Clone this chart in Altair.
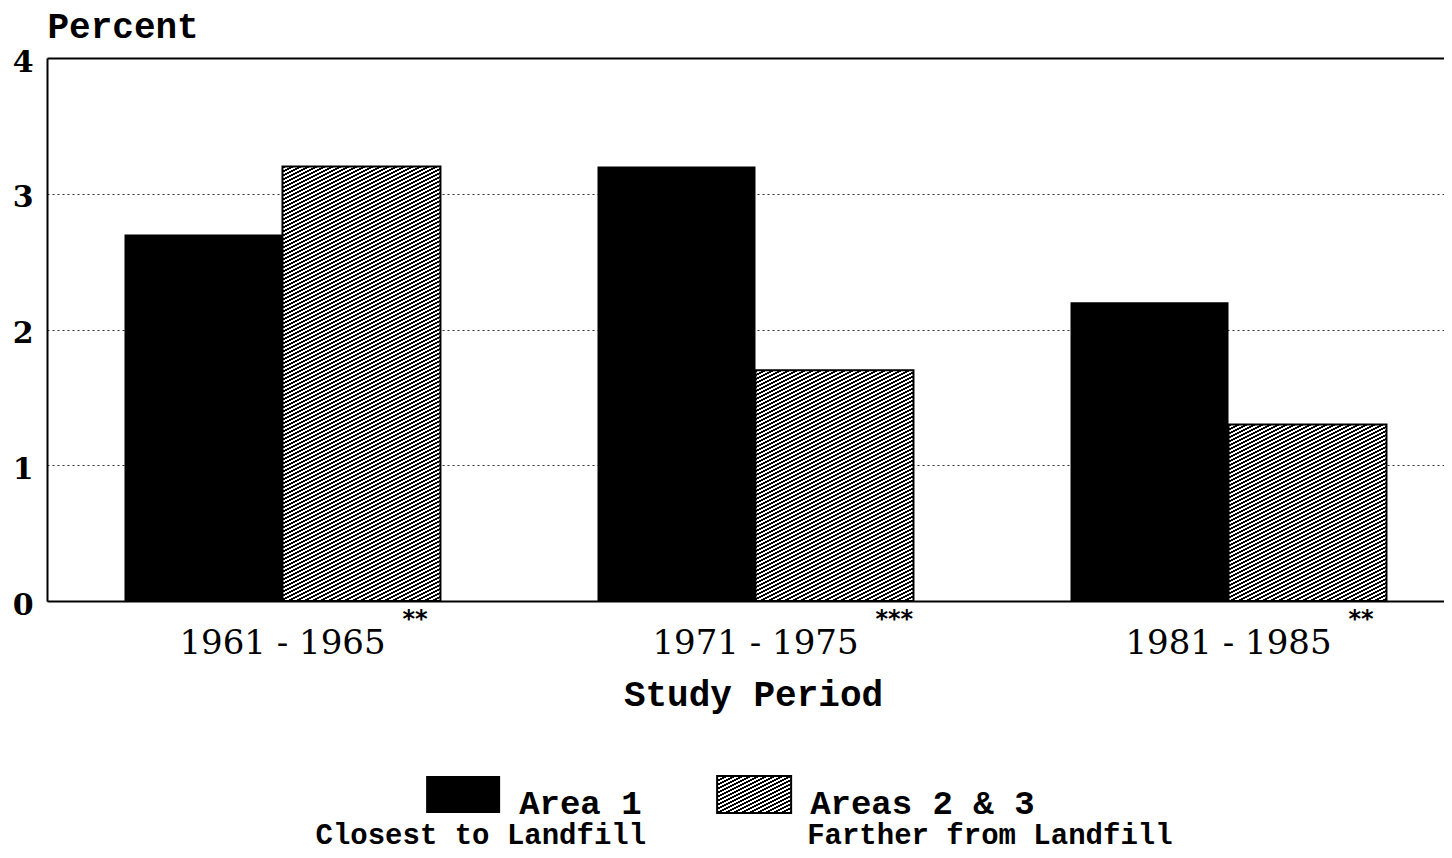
import altair as alt
import pandas as pd

# ---- data ----
periods = ["1961 - 1965", "1971 - 1975", "1981 - 1985"]
area1 = [2.7, 3.2, 2.2]
areas23 = [3.2, 1.7, 1.3]
significance = ["**", "***", "**"]
series = ["Area 1", "Areas 2 & 3"]
series_notes = ["Closest to Landfill", "Farther from Landfill"]

# ---- layout constants (styling only) ----
PLOT_W, PLOT_H = 1397, 543
Y_MAX = 4
PAD_IN, PAD_OUT, ALIGN = 0.332, 0.1427, 0.574
STEP = PLOT_W / (len(periods) - PAD_IN + 2 * PAD_OUT)
BAR_W = STEP * (1 - PAD_IN) / 2
PX_PER_UNIT = PLOT_H / Y_MAX
WORD_FONT = "Liberation Mono"
NUM_FONT = "DejaVu Serif"


def hatch(w, h, period=4.0, slope=0.5):
    """Diagonal black/white hatch as a bounding-box linear gradient."""
    a, b = slope * w, h
    s = (a + b) / (a * a + b * b)
    x2, y2 = s * a, s * b
    p = period / (a + b)
    stops = []
    t = 0.0
    while t < 1.0:
        t1 = min(t + p / 2, 1.0)
        t2 = min(t + p, 1.0)
        stops += [
            alt.GradientStop(offset=round(t, 5), color="black"),
            alt.GradientStop(offset=round(t1, 5), color="black"),
            alt.GradientStop(offset=round(t1, 5), color="white"),
            alt.GradientStop(offset=round(t2, 5), color="white"),
        ]
        t += p
    return alt.LinearGradient(gradient="linear", x1=0, y1=0, x2=round(x2, 5),
                              y2=round(y2, 5), stops=stops)


rows = []
for p, v1, v2 in zip(periods, area1, areas23):
    rows.append({"period": p, "series": series[0], "value": v1})
    rows.append({"period": p, "series": series[1], "value": v2})
df = pd.DataFrame(rows)
sig_df = pd.DataFrame({"period": periods, "sig": significance})

x_enc = alt.X(
    "period:N",
    sort=periods,
    scale=alt.Scale(domain=periods, paddingInner=PAD_IN, paddingOuter=PAD_OUT, align=ALIGN),
    axis=alt.Axis(
        title="Study Period",
        titleFont=WORD_FONT, titleFontSize=36, titleFontWeight="bold", titleColor="black",
        titleBaseline="alphabetic", titleX=706, titleY=104, titleAnchor="start", titleAlign="center",
        labelFont=NUM_FONT, labelFontSize=34, labelColor="black", labelPadding=25,
        labelLimit=0, labelAngle=0, ticks=False, domainColor="black", domainWidth=2, grid=False,
    ),
)
xoff_enc = alt.XOffset("series:N", scale=alt.Scale(domain=series, paddingInner=0, paddingOuter=0))
y_enc = alt.Y(
    "value:Q",
    scale=alt.Scale(domain=[0, Y_MAX], nice=False, zero=True),
    axis=alt.Axis(
        values=[0, 1, 2, 3, 4], format="d",
        title="Percent", titleAngle=0, titleAlign="left", titleBaseline="alphabetic",
        titleX=0, titleY=-21, titleFont=WORD_FONT, titleFontSize=36, titleFontWeight="bold",
        titleColor="black",
        labelFont=NUM_FONT, labelFontSize=30, labelFontWeight="bold", labelColor="black",
        labelPadding=14, labelOffset=4, labelBaseline="middle",
        ticks=False, domainColor="black", domainWidth=2,
        grid=True, gridColor="black",
        gridDash={"condition": {"test": "datum.value === 4", "value": []}, "value": [2, 3]},
        gridWidth={"condition": {"test": "datum.value === 4", "value": 2}, "value": 1},
        gridOpacity={"condition": {"test": "datum.value === 4", "value": 1}, "value": 0.8},
    ),
)

base = alt.Chart(df).encode(x=x_enc, xOffset=xoff_enc, y=y_enc)

layers = [
    base.mark_bar(fill="black").transform_filter(alt.datum.series == series[0])
]
for p, v in zip(periods, areas23):
    layers.append(
        base.mark_bar(fill=hatch(BAR_W, v * PX_PER_UNIT), stroke="black", strokeWidth=2)
        .transform_filter((alt.datum.series == series[1]) & (alt.datum.period == p))
    )

stars = alt.Chart(sig_df).mark_text(
    font="DejaVu Sans", fontSize=24, fontWeight="bold", color="black",
    align="left", baseline="top", dx=120, dy=7,
).encode(x=alt.X("period:N", sort=periods), y=alt.datum(0), text="sig:N")

main = alt.layer(*layers, stars).properties(width=PLOT_W, height=PLOT_H)

# ---- legend (two rows: swatch row and note row) ----
SW_W, SW_H = 74, 37
leg_df = pd.DataFrame({"series": series, "note": series_notes})
lx = alt.X("series:N", sort=series,
           scale=alt.Scale(type="point", domain=series, padding=1, align=0.715), axis=None)
ly = alt.Y("row:N", scale=alt.Scale(domain=["swatch", "note"], paddingInner=0, paddingOuter=0),
           axis=None)
sw_base = alt.Chart(leg_df).transform_calculate(row="'swatch'").encode(x=lx, y=ly)
note_base = alt.Chart(leg_df).transform_calculate(row="'note'").encode(x=lx, y=ly)
leg = alt.layer(
    sw_base.mark_rect(width=SW_W, fill="black").transform_filter(alt.datum.series == series[0]),
    sw_base.mark_rect(width=SW_W, fill=hatch(SW_W, SW_H), stroke="black", strokeWidth=2)
    .transform_filter(alt.datum.series == series[1]),
    sw_base.mark_text(font=WORD_FONT, fontSize=34, fontWeight="bold", color="black",
                      align="left", baseline="alphabetic", dx=56, dy=19.5).encode(text="series:N"),
    note_base.mark_text(font=WORD_FONT, fontSize=29, fontWeight="bold", color="black",
                        align="right", baseline="alphabetic", dx=183, dy=12)
    .encode(text="note:N").transform_filter(alt.datum.series == series[0]),
    note_base.mark_text(font=WORD_FONT, fontSize=29, fontWeight="bold", color="black",
                        align="left", baseline="alphabetic", dx=53, dy=12)
    .encode(text="note:N").transform_filter(alt.datum.series == series[1]),
).properties(width=873, height=2 * SW_H)

chart = alt.vconcat(main, leg, spacing=63).properties(
    padding={"left": 4, "top": 0, "right": 0, "bottom": 0}
).configure(
    background="white",
    view=alt.ViewConfig(stroke="transparent", strokeWidth=0),
)

chart.save("out.html", embed_options={"renderer": "svg", "actions": False})
